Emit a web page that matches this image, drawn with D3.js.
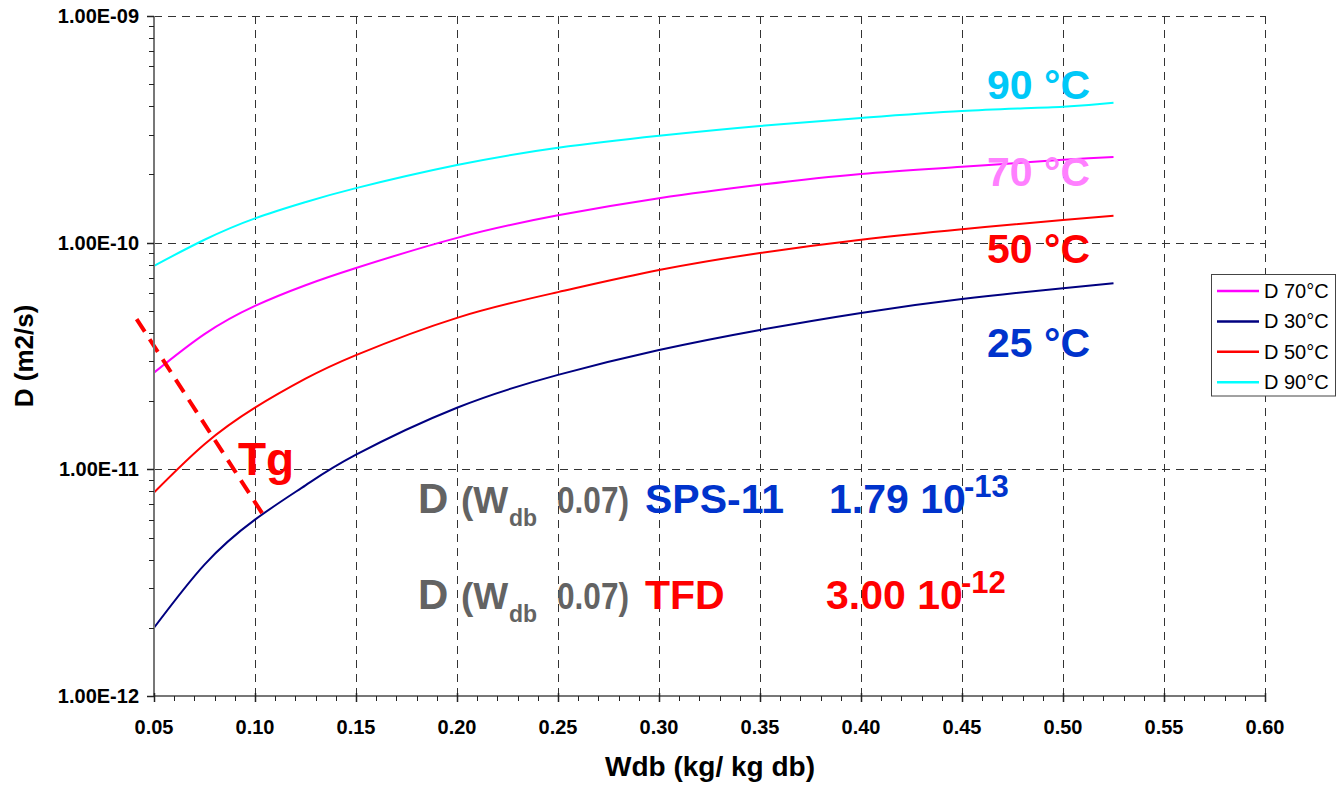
<!DOCTYPE html>
<html>
<head>
<meta charset="utf-8">
<script src="https://cdn.jsdelivr.net/npm/d3@7"></script>
<style>
  html, body { margin: 0; padding: 0; background: #fff; }
  svg { display: block; font-family: "Liberation Sans", Arial, sans-serif; }
</style>
</head>
<body>
<svg id="chart" width="1336" height="786"></svg>
<script>
// Moisture content (kg water / kg dry basis)
const wdb = [0.05, 0.075, 0.10, 0.125, 0.15, 0.20, 0.25, 0.30, 0.35, 0.40, 0.45, 0.50, 0.525];

// Diffusion coefficient D (m2/s) per temperature
const d30 = [2.0e-12, 3.8e-12, 6.0e-12, 8.5e-12, 1.16e-11, 1.87e-11, 2.61e-11, 3.36e-11, 4.12e-11, 4.90e-11, 5.64e-11, 6.30e-11, 6.62e-11];
const d50 = [7.9e-12, 1.29e-11, 1.87e-11, 2.51e-11, 3.19e-11, 4.66e-11, 6.05e-11, 7.57e-11, 9.0e-11, 1.03e-10, 1.146e-10, 1.26e-10, 1.315e-10];
const d70 = [2.67e-11, 3.95e-11, 5.26e-11, 6.49e-11, 7.73e-11, 1.05e-10, 1.32e-10, 1.57e-10, 1.80e-10, 2.01e-10, 2.16e-10, 2.32e-10, 2.39e-10];
const d90 = [7.9e-11, 1.03e-10, 1.28e-10, 1.51e-10, 1.74e-10, 2.20e-10, 2.62e-10, 2.96e-10, 3.27e-10, 3.55e-10, 3.81e-10, 3.98e-10, 4.14e-10];

// Glass transition boundary (dashed)
const tgW = [0.0414, 0.1041];
const tgD = [4.6e-11, 6.29e-12];

// Axis ticks
const xTicks = [0.05, 0.10, 0.15, 0.20, 0.25, 0.30, 0.35, 0.40, 0.45, 0.50, 0.55, 0.60];
const xTickLabels = ["0.05", "0.10", "0.15", "0.20", "0.25", "0.30", "0.35", "0.40", "0.45", "0.50", "0.55", "0.60"];
const yTicks = [1e-12, 1e-11, 1e-10, 1e-9];
const yTickLabels = ["1.00E-12", "1.00E-11", "1.00E-10", "1.00E-09"];

// Legend entries
const legendNames = ["D 70°C", "D 30°C", "D 50°C", "D 90°C"];
const legendColors = ["#ff00ff", "#000080", "#ff0000", "#00ffff"];

const svg = d3.select("#chart");
const x = d3.scaleLinear().domain([0.05, 0.60]).range([154, 1265]);
const y = d3.scaleLog().domain([1e-12, 1e-9]).range([696, 16]);
const [x0, x1] = x.range();
const [yB, yT] = y.range();

// Gridlines
const grid = svg.append("g").attr("stroke", "#333").attr("stroke-width", 1).attr("stroke-dasharray", "8,6");
grid.selectAll("line.v").data(xTicks.slice(1)).join("line")
  .attr("x1", d => Math.round(x(d)) + 0.5).attr("x2", d => Math.round(x(d)) + 0.5)
  .attr("y1", yT).attr("y2", yB);
grid.selectAll("line.h").data(yTicks.slice(1)).join("line")
  .attr("x1", x0).attr("x2", x1)
  .attr("y1", d => Math.round(y(d)) + 0.5).attr("y2", d => Math.round(y(d)) + 0.5);

// Curves
const line = d3.line().x(d => x(d[0])).y(d => y(d[1])).curve(d3.curveNatural);
const series = [
  { vals: d70, color: "#ff00ff" },
  { vals: d30, color: "#000080" },
  { vals: d50, color: "#ff0000" },
  { vals: d90, color: "#00ffff" }
];
svg.append("g").selectAll("path").data(series).join("path")
  .attr("d", s => line(wdb.map((w, i) => [w, s.vals[i]])))
  .attr("fill", "none").attr("stroke", s => s.color).attr("stroke-width", 2);

// Tg boundary
svg.append("line")
  .attr("x1", x(tgW[0])).attr("y1", y(tgD[0]))
  .attr("x2", x(tgW[1])).attr("y2", y(tgD[1]))
  .attr("stroke", "#ff0000").attr("stroke-width", 4).attr("stroke-dasharray", "15,9");
svg.append("text").attr("x", 238).attr("y", 475)
  .attr("font-size", 46).attr("font-weight", "bold").attr("fill", "#ff0000").text("Tg");

// Temperature labels
const tLabels = [
  { t: "90 °C", yb: 99, c: "#00c8f8" },
  { t: "70 °C", yb: 186, c: "#ff80ff" },
  { t: "50 °C", yb: 263, c: "#ff0000" },
  { t: "25 °C", yb: 357, c: "#0033cc" }
];
svg.append("g").selectAll("text").data(tLabels).join("text")
  .attr("x", 987).attr("y", d => d.yb)
  .attr("font-size", 41).attr("font-weight", "bold").attr("fill", d => d.c)
  .text(d => d.t);

// Diffusivity at Wdb 0.07 notes
function note(yb, name, nameColor, value, exp) {
  const g = svg.append("g").attr("font-weight", "bold");
  const gray = "#636363";
  g.append("text").attr("x", 418).attr("y", yb).attr("font-size", 42).attr("fill", gray).text("D");
  g.append("text").attr("x", 461).attr("y", yb).attr("font-size", 37).attr("fill", gray).text("(W");
  g.append("text").attr("x", 509).attr("y", yb + 13).attr("font-size", 23).attr("fill", gray).text("db");
  g.append("text").attr("x", 557).attr("y", yb).attr("font-size", 36).attr("fill", gray)
    .attr("textLength", 72).attr("lengthAdjust", "spacingAndGlyphs").text("0.07)");
  g.append("text").attr("x", 645).attr("y", yb).attr("font-size", 41).attr("fill", nameColor).text(name);
  g.append("text").attr("x", value.x).attr("y", yb).attr("font-size", 41).attr("fill", nameColor).text(value.t);
  g.append("text").attr("x", value.x + 135).attr("y", yb - 16).attr("font-size", 31).attr("fill", nameColor).text(exp);
}
note(513, "SPS-11", "#0033cc", { x: 829, t: "1.79 10" }, "-13");
note(609, "TFD", "#ff0000", { x: 826, t: "3.00 10" }, "-12");

// Axes lines
svg.append("line").attr("x1", x0).attr("x2", x0).attr("y1", yT).attr("y2", yB + 1)
  .attr("stroke", "#777").attr("stroke-width", 2);
svg.append("line").attr("x1", x0 - 1).attr("x2", x1).attr("y1", yB).attr("y2", yB)
  .attr("stroke", "#777").attr("stroke-width", 2);

// Y ticks (major + minor, log)
const yMinor = [];
[1e-12, 1e-11, 1e-10].forEach(dec => { for (let k = 2; k <= 9; k++) yMinor.push(dec * k); });
svg.append("g").selectAll("line").data(yMinor).join("line")
  .attr("x1", x0 - 5).attr("x2", x0).attr("y1", d => Math.round(y(d)) + 0.5).attr("y2", d => Math.round(y(d)) + 0.5)
  .attr("stroke", "#222").attr("stroke-width", 1);
svg.append("g").selectAll("line").data(yTicks).join("line")
  .attr("x1", x0 - 7).attr("x2", x0).attr("y1", d => Math.round(y(d)) + 0.5).attr("y2", d => Math.round(y(d)) + 0.5)
  .attr("stroke", "#222").attr("stroke-width", 1.5);
svg.append("g").selectAll("text").data(yTicks).join("text")
  .attr("x", 139).attr("y", d => y(d) + 7)
  .attr("text-anchor", "end").attr("font-size", 20).attr("font-weight", "bold").attr("fill", "#000")
  .text((d, i) => yTickLabels[i]);

// X ticks (major + minor)
const xMinor = d3.range(5, 61).map(v => v / 100).filter(v => Math.round(v * 100) % 5 !== 0);
svg.append("g").selectAll("line").data(xMinor).join("line")
  .attr("x1", d => Math.round(x(d)) + 0.5).attr("x2", d => Math.round(x(d)) + 0.5)
  .attr("y1", yB).attr("y2", yB + 5)
  .attr("stroke", "#222").attr("stroke-width", 1);
svg.append("g").selectAll("line").data(xTicks).join("line")
  .attr("x1", d => Math.round(x(d)) + 0.5).attr("x2", d => Math.round(x(d)) + 0.5)
  .attr("y1", yB - 3).attr("y2", yB + 6)
  .attr("stroke", "#222").attr("stroke-width", 1.5);
svg.append("g").selectAll("text").data(xTicks).join("text")
  .attr("x", d => x(d)).attr("y", 734)
  .attr("text-anchor", "middle").attr("font-size", 20).attr("font-weight", "bold").attr("fill", "#000")
  .text((d, i) => xTickLabels[i]);

// Axis titles
svg.append("text").attr("x", 710).attr("y", 776).attr("text-anchor", "middle")
  .attr("font-size", 28).attr("font-weight", "bold").text("Wdb (kg/ kg db)");
svg.append("text").attr("transform", "translate(33,356) rotate(-90)").attr("text-anchor", "middle")
  .attr("font-size", 26).attr("font-weight", "bold").text("D (m2/s)");

// Legend
const lg = svg.append("g");
lg.append("rect").attr("x", 1211.5).attr("y", 274.5).attr("width", 124).attr("height", 121.5)
  .attr("fill", "#fff").attr("stroke", "#444").attr("stroke-width", 1);
const items = lg.selectAll("g.item").data(legendNames).join("g")
  .attr("transform", (d, i) => `translate(0,${291 + i * 30.4})`);
items.append("line").attr("x1", 1217).attr("x2", 1259).attr("y1", 0).attr("y2", 0)
  .attr("stroke", (d, i) => legendColors[i]).attr("stroke-width", 2.5);
items.append("text").attr("x", 1264).attr("y", 7).attr("font-size", 20).attr("fill", "#000").text(d => d);
</script>
</body>
</html>
